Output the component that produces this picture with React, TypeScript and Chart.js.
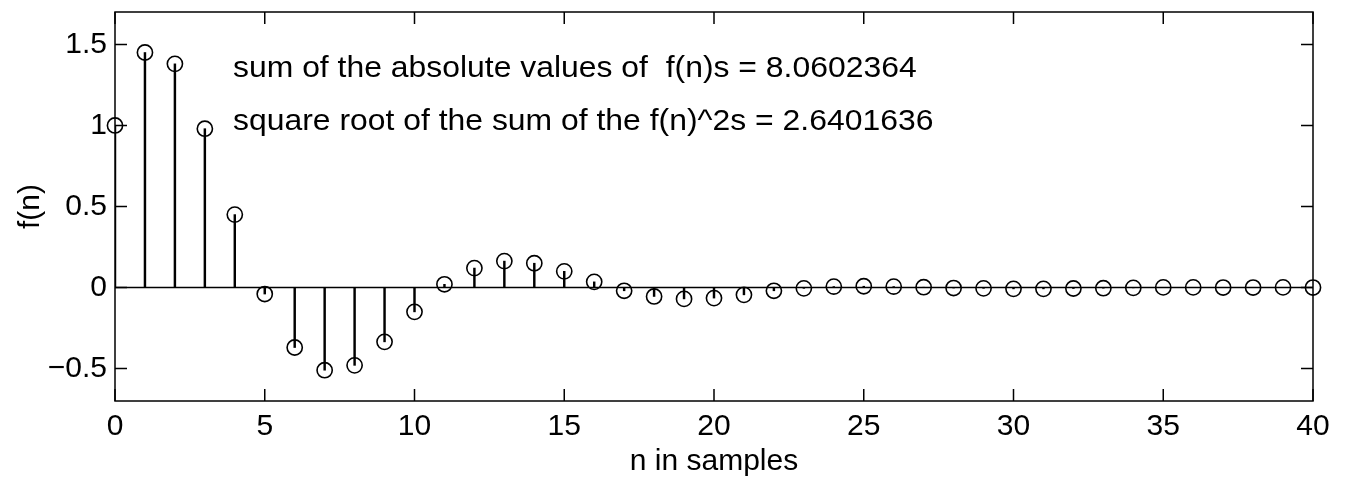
import { useEffect, useRef } from "react";
import { Chart, registerables } from "chart.js";

Chart.register(...registerables);

// Sample index n and the sequence f(n)
const samples = [
  0, 1, 2, 3, 4, 5, 6, 7, 8, 9, 10, 11, 12, 13, 14, 15, 16, 17, 18, 19, 20,
  21, 22, 23, 24, 25, 26, 27, 28, 29, 30, 31, 32, 33, 34, 35, 36, 37, 38, 39, 40,
];
const fValues = [
  1.0, 1.45, 1.38, 0.98, 0.45, -0.04, -0.37, -0.51, -0.48, -0.335, -0.15,
  0.02, 0.12, 0.163, 0.15, 0.1, 0.035, -0.02, -0.055, -0.07, -0.065, -0.045,
  -0.02, -0.005, 0.006, 0.008, 0.006, 0.002, -0.003, -0.005, -0.008, -0.008,
  -0.006, -0.004, -0.002, 0.001, 0.001, 0, 0, 0.001, 0,
];

// Axis ticks
const xTickValues = [0, 5, 10, 15, 20, 25, 30, 35, 40];
const xTickLabels = ["0", "5", "10", "15", "20", "25", "30", "35", "40"];
const yTickValues = [-0.5, 0, 0.5, 1, 1.5];
const yTickLabels = ["\u22120.5", "0", "0.5", "1", "1.5"];

// Annotation lines, anchored in data units (n, f(n)) at their left baseline
const noteLines = [
  "sum of the absolute values of  f(n)s = 8.0602364",
  "square root of the sum of the f(n)^2s = 2.6401636",
];
const noteX = [3.94, 3.94];
const noteY = [1.3, 0.975];

const FONT = '"Liberation Sans", Arial, Helvetica, sans-serif';

const framePlugin = {
  id: "frameAndNotes",
  afterDatasetsDraw(chart: any) {
    const { ctx, chartArea, scales } = chart;
    const { left, right, top, bottom } = chartArea;
    const xs = scales.x;
    const ys = scales.y;
    ctx.save();
    ctx.strokeStyle = "#000";
    ctx.lineWidth = 1.5;
    ctx.strokeRect(left, top, right - left, bottom - top);

    // inward tick marks on all four sides
    const len = 12;
    ctx.beginPath();
    for (const t of xs.ticks) {
      const px = xs.getPixelForValue(t.value);
      ctx.moveTo(px, bottom);
      ctx.lineTo(px, bottom - len);
      ctx.moveTo(px, top);
      ctx.lineTo(px, top + len);
    }
    for (const t of ys.ticks) {
      const py = ys.getPixelForValue(t.value);
      ctx.moveTo(left, py);
      ctx.lineTo(left + len, py);
      ctx.moveTo(right, py);
      ctx.lineTo(right - len, py);
    }
    ctx.stroke();

    // text annotations
    ctx.fillStyle = "#000";
    ctx.font = `29px ${FONT}`;
    ctx.textAlign = "left";
    ctx.textBaseline = "alphabetic";
    noteLines.forEach((line, i) => {
      const px = xs.getPixelForValue(noteX[i]);
      const py = ys.getPixelForValue(noteY[i]);
      ctx.save();
      ctx.translate(px, py);
      ctx.scale(1.1, 1);
      ctx.fillText(line, 0, 0);
      ctx.restore();
    });
    ctx.restore();
  },
};

export default function App() {
  const canvasRef = useRef<HTMLCanvasElement | null>(null);

  useEffect(() => {
    const canvas = canvasRef.current;
    if (!canvas) return;

    const points = samples.map((n, i) => ({ x: n, y: fValues[i] }));

    const chart = new Chart(canvas, {
      type: "bar",
      data: {
        datasets: [
          {
            type: "line",
            label: "markers",
            data: points,
            showLine: false,
            pointStyle: "circle",
            pointRadius: 7.6,
            pointBorderWidth: 1.6,
            pointBorderColor: "#000",
            pointBackgroundColor: "rgba(0,0,0,0)",
            clip: false,
            order: 1,
          } as any,
          {
            type: "bar",
            label: "stems",
            data: points,
            backgroundColor: "#000",
            borderWidth: 0,
            barThickness: 1.8,
            grouped: false,
            order: 2,
          } as any,
          {
            type: "line",
            label: "baseline",
            data: [
              { x: samples[0], y: 0 },
              { x: samples[samples.length - 1], y: 0 },
            ],
            borderColor: "#000",
            borderWidth: 1.6,
            pointRadius: 0,
            order: 3,
          } as any,
        ],
      },
      options: {
        animation: false,
        responsive: true,
        maintainAspectRatio: false,
        layout: { padding: { top: 12, right: 35, left: 0, bottom: 0 } },
        plugins: {
          legend: { display: false },
          tooltip: { enabled: false },
        },
        scales: {
          x: {
            type: "linear",
            min: 0,
            max: 40,
            offset: false,
            grid: { display: false, drawTicks: false, offset: false },
            border: { display: false },
            afterBuildTicks: (scale: any) => {
              scale.ticks = xTickValues.map((v) => ({ value: v }));
            },
            afterFit: (scale: any) => {
              scale.height = 83;
              scale.paddingLeft = 0;
              scale.paddingRight = 0;
            },
            ticks: {
              color: "#000",
              padding: 8,
              maxRotation: 0,
              autoSkip: false,
              font: { family: FONT, size: 30 },
              callback: (value: any) => {
                const i = xTickValues.indexOf(Number(value));
                return i >= 0 ? xTickLabels[i] : "";
              },
            },
            title: {
              display: true,
              text: "n in samples",
              color: "#000",
              font: { family: FONT, size: 30 },
              padding: { top: 0, bottom: 4 },
            },
          },
          y: {
            type: "linear",
            min: -0.7,
            max: 1.7,
            grid: { display: false, drawTicks: false },
            border: { display: false },
            afterBuildTicks: (scale: any) => {
              scale.ticks = yTickValues.map((v) => ({ value: v }));
            },
            afterFit: (scale: any) => {
              scale.width = 115;
              scale.paddingTop = 0;
              scale.paddingBottom = 0;
            },
            ticks: {
              color: "#000",
              padding: 8,
              autoSkip: false,
              font: { family: FONT, size: 30 },
              callback: (value: any) => {
                const i = yTickValues.indexOf(Number(value));
                return i >= 0 ? yTickLabels[i] : "";
              },
            },
            title: {
              display: true,
              text: "f(n)",
              color: "#000",
              font: { family: FONT, size: 30 },
              padding: { top: 13, bottom: 0 },
            },
          },
        },
      },
      plugins: [framePlugin],
    });

    return () => chart.destroy();
  }, []);

  return (
    <div
      style={{
        position: "fixed",
        left: 0,
        top: 0,
        width: 1348,
        height: 484,
        background: "#fff",
      }}
    >
      <canvas ref={canvasRef} />
    </div>
  );
}
